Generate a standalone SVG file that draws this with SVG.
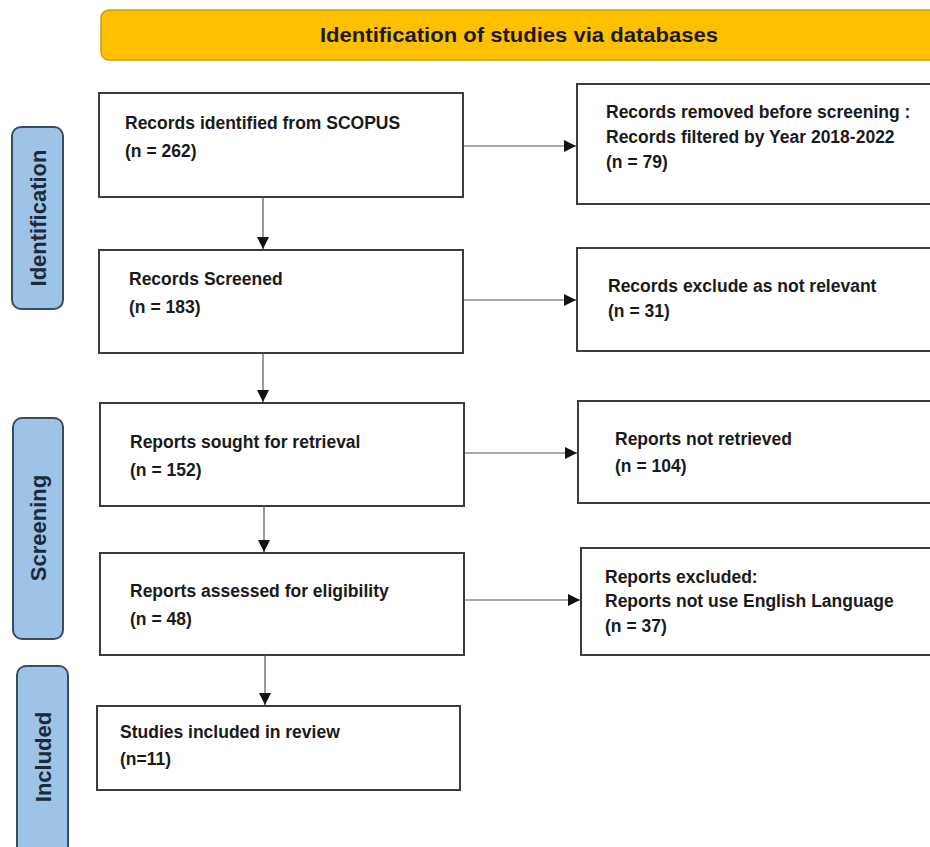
<svg xmlns="http://www.w3.org/2000/svg" width="930" height="847" viewBox="0 0 930 847">
<style>
.box{fill:#fff;stroke:#3c3c3c;stroke-width:2}
.t{font-family:"Liberation Sans",Arial,sans-serif;font-weight:bold;font-size:17.5px;fill:#1a1a1a}
.side{fill:#9dc3e6;stroke:#3b4b5e;stroke-width:2}
.st{font-family:"Liberation Sans",Arial,sans-serif;font-weight:bold;font-size:22px;fill:#1c2a3a;text-anchor:middle;dominant-baseline:central}
.c{stroke:#555;stroke-width:1.2;fill:none;marker-end:url(#ah)}
</style>
<defs>
<marker id="ah" viewBox="0 0 12 12" refX="12" refY="6" markerWidth="12" markerHeight="12" markerUnits="userSpaceOnUse" orient="auto">
<path d="M0,0 L12,6 L0,12 Z" fill="#111"/>
</marker>
</defs>
<rect width="930" height="847" fill="#fff"/>
<g id="banner">
<rect x="101" y="10" width="845" height="50" rx="8" fill="#ffc000" stroke="#c99a10" stroke-width="1.5"/>
<text x="519" y="42" text-anchor="middle" font-family="Liberation Sans,Arial,sans-serif" font-weight="bold" font-size="21" fill="#1a1a1a" textLength="398" lengthAdjust="spacingAndGlyphs">Identification of studies via databases</text>
</g>
<g id="lbl-identification">
<rect class="side" x="12" y="127" width="51" height="182" rx="9"/>
<text class="st" transform="translate(38,218) rotate(-90)">Identification</text>
</g>
<g id="lbl-screening">
<rect class="side" x="13" y="418" width="50" height="221" rx="9"/>
<text class="st" transform="translate(38,528) rotate(-90)">Screening</text>
</g>
<g id="lbl-included">
<rect class="side" x="17" y="666" width="51" height="200" rx="9"/>
<text class="st" transform="translate(43,757) rotate(-90)">Included</text>
</g>
<g id="n1">
<rect class="box" x="99" y="93" width="364" height="104"/>
<text class="t" x="125" y="129">Records identified from SCOPUS</text>
<text class="t" x="125" y="157">(n = 262)</text>
</g>
<g id="n2">
<rect class="box" x="99" y="250" width="364" height="103"/>
<text class="t" x="129" y="285">Records Screened</text>
<text class="t" x="129" y="313">(n = 183)</text>
</g>
<g id="n3">
<rect class="box" x="100" y="403" width="364" height="103"/>
<text class="t" x="130" y="448">Reports sought for retrieval</text>
<text class="t" x="130" y="476">(n = 152)</text>
</g>
<g id="n4">
<rect class="box" x="100" y="553" width="364" height="102"/>
<text class="t" x="130" y="597">Reports assessed for eligibility</text>
<text class="t" x="130" y="625">(n = 48)</text>
</g>
<g id="n5">
<rect class="box" x="97" y="706" width="363" height="84"/>
<text class="t" x="120" y="738">Studies included in review</text>
<text class="t" x="120" y="765">(n=11)</text>
</g>
<g id="rA">
<rect class="box" x="577" y="84" width="360" height="120"/>
<text class="t" x="606" y="118">Records removed before screening :</text>
<text class="t" x="606" y="143">Records filtered by Year 2018-2022</text>
<text class="t" x="606" y="168">(n = 79)</text>
</g>
<g id="rB">
<rect class="box" x="577" y="248" width="360" height="103"/>
<text class="t" x="608" y="292">Records exclude as not relevant</text>
<text class="t" x="608" y="317">(n = 31)</text>
</g>
<g id="rC">
<rect class="box" x="578" y="401" width="360" height="102"/>
<text class="t" x="615" y="445">Reports not retrieved</text>
<text class="t" x="615" y="472">(n = 104)</text>
</g>
<g id="rD">
<rect class="box" x="581" y="548" width="360" height="107"/>
<text class="t" x="605" y="583">Reports excluded:</text>
<text class="t" x="605" y="607">Reports not use English Language</text>
<text class="t" x="605" y="632">(n = 37)</text>
</g>
<g id="connectors">
<line class="c" x1="263" y1="197" x2="263" y2="249"/>
<line class="c" x1="263" y1="353" x2="263" y2="402"/>
<line class="c" x1="264" y1="506" x2="264" y2="552"/>
<line class="c" x1="265" y1="655" x2="265" y2="705"/>
<line class="c" x1="464" y1="146" x2="576" y2="146"/>
<line class="c" x1="464" y1="300" x2="576" y2="300"/>
<line class="c" x1="465" y1="453" x2="577" y2="453"/>
<line class="c" x1="465" y1="600" x2="580" y2="600"/>
</g>
</svg>
